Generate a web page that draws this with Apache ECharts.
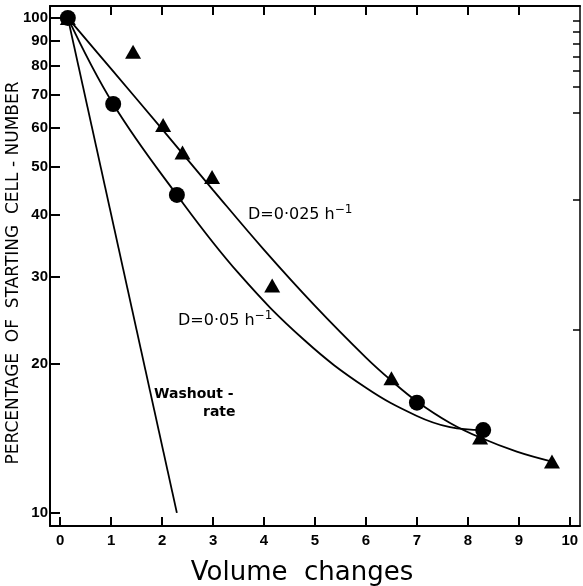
<!DOCTYPE html>
<html>
<head>
<meta charset="utf-8">
<script src="https://cdn.jsdelivr.net/npm/echarts@6/dist/echarts.min.js"></script>
<style>
  html, body { margin: 0; padding: 0; background: #fff; }
  #chart { width: 583px; height: 586px; }
</style>
</head>
<body>
<div id="chart"></div>
<script>
    // axis ticks
    var xTicks = [0, 1, 2, 3, 4, 5, 6, 7, 8, 9, 10];
    var topTicks = [1, 2, 3, 4, 5, 6, 7, 8, 9];
    var yTicks = [10, 20, 30, 40, 50, 60, 70, 80, 90, 100];
    var rightTicks = [98.6, 93.7, 88.6, 83.4, 78.1, 72.5, 64.2, 42.9, 23.4];

    // measured points
    var triPoints = [[0.15, 100], [1.43, 85.4], [2.02, 60.8], [2.4, 53.5], [2.98, 47.7],
                     [4.16, 28.8], [6.5, 18.7], [8.24, 14.2], [9.65, 12.7]];
    var dotPoints = [[0.15, 100], [1.04, 67], [2.29, 43.9], [7.0, 16.7], [8.3, 14.7]];

    // fitted curves
    var curveSlow = [[0.15, 100], [1.0, 78.9], [2.0, 59.6], [3.0, 44.9], [4.0, 34.0],
                     [5.0, 26.2], [6.0, 20.6], [6.5, 18.5], [7.0, 16.8], [7.65, 15.2],
                     [8.24, 14.2], [8.96, 13.3], [9.65, 12.7]];
    var curveFast = [[0.15, 100], [1.04, 67], [2.29, 43.9], [3.5, 30.5], [4.8, 22.3],
                     [6.0, 17.9], [7.0, 15.7], [7.65, 14.9], [8.3, 14.7]];
    var washout = [[0.15, 100], [2.29, 10]];

    var ink = '#000';
    var chart = echarts.init(document.getElementById('chart'));

    var option = {
        animation: false,
        backgroundColor: '#fff',
        grid: { left: 50, right: 3, top: 6, bottom: 60 },
        xAxis: [
            {
                type: 'value',
                min: -0.2,
                max: 10.2,
                position: 'bottom',
                axisLine: { onZero: false, lineStyle: { color: ink, width: 2 } },
                axisTick: { inside: true, length: 9, customValues: xTicks, lineStyle: { color: ink, width: 2 } },
                axisLabel: {
                    customValues: xTicks,
                    color: ink,
                    fontFamily: 'Liberation Sans',
                    fontWeight: 'bold',
                    fontSize: 15,
                    margin: 7
                },
                splitLine: { show: false }
            },
            {
                type: 'value',
                min: -0.2,
                max: 10.2,
                position: 'top',
                axisLine: { onZero: false, lineStyle: { color: ink, width: 2 } },
                axisTick: { inside: true, length: 9, customValues: topTicks, lineStyle: { color: ink, width: 2 } },
                axisLabel: { show: false },
                splitLine: { show: false }
            }
        ],
        yAxis: [
            {
                type: 'log',
                logBase: 10,
                min: 9.41,
                max: 105.7,
                position: 'left',
                axisLine: { onZero: false, lineStyle: { color: ink, width: 2 } },
                axisTick: { inside: true, length: 10, customValues: yTicks, lineStyle: { color: ink, width: 2 } },
                axisLabel: {
                    customValues: yTicks,
                    color: ink,
                    fontFamily: 'Liberation Sans',
                    fontWeight: 'bold',
                    fontSize: 15,
                    margin: 2
                },
                minorTick: { show: false },
                splitLine: { show: false }
            },
            {
                type: 'log',
                logBase: 10,
                min: 9.41,
                max: 105.7,
                position: 'right',
                axisLine: { onZero: false, lineStyle: { color: ink, width: 1.5 } },
                axisTick: { inside: true, length: 7, customValues: rightTicks, lineStyle: { color: ink, width: 1.5 } },
                axisLabel: { show: false },
                splitLine: { show: false }
            }
        ],
        graphic: [
            {
                type: 'text',
                x: 14, y: 273,
                rotation: Math.PI / 2,
                style: {
                    text: 'PERCENTAGE  OF  STARTING  CELL - NUMBER',
                    fill: ink,
                    font: '17px "DejaVu Sans"',
                    align: 'center',
                    verticalAlign: 'middle'
                }
            },
            {
                type: 'text',
                x: 302, y: 573,
                style: {
                    text: 'Volume  changes',
                    fill: ink,
                    font: '26px "DejaVu Sans"',
                    align: 'center',
                    verticalAlign: 'middle'
                }
            },
            {
                type: 'text',
                x: 248, y: 215,
                style: {
                    text: 'D=0·025 h{s|−1}',
                    fill: ink,
                    font: '16px "DejaVu Sans"',
                    verticalAlign: 'middle',
                    rich: { s: { fontSize: 12, fontFamily: 'DejaVu Sans', verticalAlign: 'top', padding: [0, 0, 10, 0] } }
                }
            },
            {
                type: 'text',
                x: 178, y: 321,
                style: {
                    text: 'D=0·05 h{s|−1}',
                    fill: ink,
                    font: '16px "DejaVu Sans"',
                    verticalAlign: 'middle',
                    rich: { s: { fontSize: 12, fontFamily: 'DejaVu Sans', verticalAlign: 'top', padding: [0, 0, 10, 0] } }
                }
            },
            {
                type: 'text',
                x: 154, y: 394,
                style: {
                    text: 'Washout -',
                    fill: ink,
                    font: 'bold 14px "DejaVu Sans"',
                    verticalAlign: 'middle'
                }
            },
            {
                type: 'text',
                x: 203, y: 412,
                style: {
                    text: 'rate',
                    fill: ink,
                    font: 'bold 14px "DejaVu Sans"',
                    verticalAlign: 'middle'
                }
            }
        ],
        series: [
            {
                name: 'D=0.025',
                type: 'line',
                data: curveSlow,
                smooth: 0.4,
                showSymbol: false,
                lineStyle: { color: ink, width: 1.8 }
            },
            {
                name: 'D=0.05',
                type: 'line',
                data: curveFast,
                smooth: 0.4,
                showSymbol: false,
                lineStyle: { color: ink, width: 1.8 }
            },
            {
                name: 'Washout',
                type: 'line',
                data: washout,
                showSymbol: false,
                lineStyle: { color: ink, width: 1.8 }
            },
            {
                name: 'triangles',
                type: 'scatter',
                data: triPoints,
                symbol: 'triangle',
                symbolSize: [16, 14],
                itemStyle: { color: ink, opacity: 1 }
            },
            {
                name: 'circles',
                type: 'scatter',
                data: dotPoints,
                symbol: 'circle',
                symbolSize: 16,
                itemStyle: { color: ink, opacity: 1 }
            }
        ]
    };

    chart.setOption(option);
</script>
</body>
</html>
